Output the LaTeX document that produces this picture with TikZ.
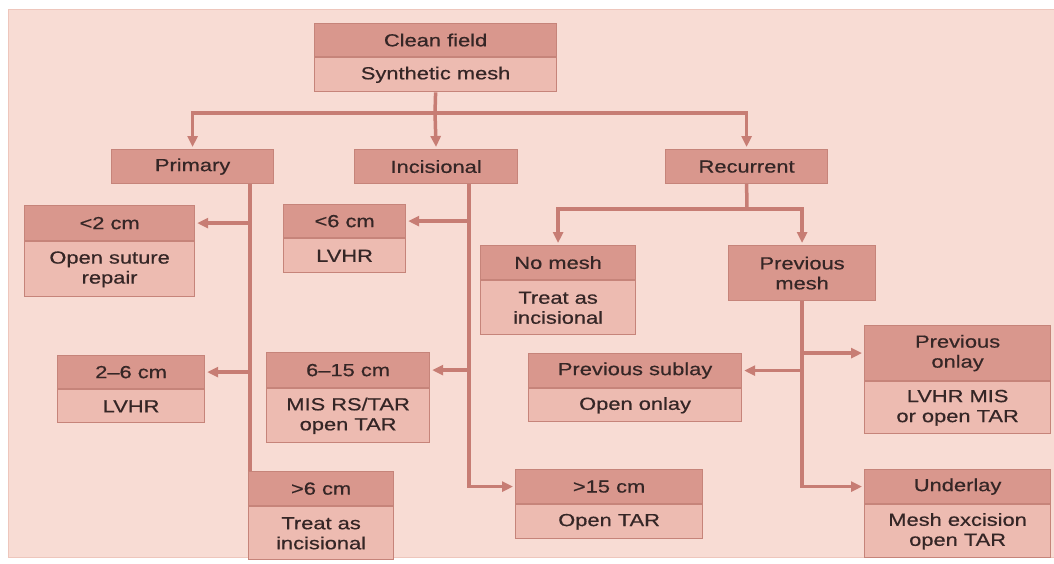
\documentclass[tikz,border=0pt]{standalone}
\usepackage{fontspec}
\setmainfont{Liberation Sans}[FakeStretch=1.25,FakeBold=0.6]
\usetikzlibrary{arrows.meta}
\definecolor{panel}{HTML}{F8DCD4}
\definecolor{panelline}{HTML}{EEC6BC}
\definecolor{hdrfill}{HTML}{D9978D}
\definecolor{bodyfill}{HTML}{EDBBB1}
\definecolor{boxline}{HTML}{C6847A}
\definecolor{linec}{HTML}{C77D74}
\definecolor{txt}{HTML}{352626}
\tikzset{
  boxbase/.style={draw=boxline, line width=1.2pt, text=txt, align=center,
    inner sep=0pt, anchor=north west,
    font=\fontsize{17.5pt}{20pt}\selectfont},
  hdr/.style={boxbase, fill=hdrfill},
  bdy/.style={boxbase, fill=bodyfill},
  conn/.style={draw=linec, line width=3.5pt},
  arr/.style={conn, -{Triangle[length=11pt,width=10pt]}, shorten >=2pt}
}
\begin{document}
\begin{tikzpicture}[x=1pt,y=-1pt]
\useasboundingbox (0,0) rectangle (1054,563);
\fill[white] (0,0) rectangle (1054,563);
\filldraw[fill=panel, draw=panelline, line width=1pt] (8,9) rectangle (1054,557);

% top
\node[hdr, minimum width=242pt, minimum height=33pt] (clean) at (314,23) {Clean field};
\node[bdy, minimum width=242pt, minimum height=34pt] (cleanb) at (clean.south west) {Synthetic mesh};

% level 2
\node[hdr, minimum width=162pt, minimum height=34pt] (primary) at (111,149) {Primary};
\node[hdr, minimum width=163pt, minimum height=34pt] (incis) at (354,149) {Incisional};
\node[hdr, minimum width=162pt, minimum height=34pt] (recur) at (665,149) {Recurrent};

% primary branch
\node[hdr, minimum width=170pt, minimum height=35pt] (lt2) at (24,205) {<2 cm};
\node[bdy, minimum width=170pt, minimum height=55pt] (lt2b) at (lt2.south west) {Open suture\\repair};
\node[hdr, minimum width=147pt, minimum height=33pt] (r26) at (57,355) {2–6 cm};
\node[bdy, minimum width=147pt, minimum height=33pt] (r26b) at (r26.south west) {LVHR};
\node[hdr, minimum width=145pt, minimum height=34pt] (gt6) at (248,471) {>6 cm};
\node[bdy, minimum width=145pt, minimum height=53pt] (gt6b) at (gt6.south west) {Treat as\\incisional};

% incisional branch
\node[hdr, minimum width=122pt, minimum height=33pt] (lt6) at (283,204) {<6 cm};
\node[bdy, minimum width=122pt, minimum height=34pt] (lt6b) at (lt6.south west) {LVHR};
\node[hdr, minimum width=163pt, minimum height=35pt] (r615) at (266,352) {6–15 cm};
\node[bdy, minimum width=163pt, minimum height=54pt] (r615b) at (r615.south west) {MIS RS/TAR\\open TAR};
\node[hdr, minimum width=187pt, minimum height=34pt] (gt15) at (515,469) {>15 cm};
\node[bdy, minimum width=187pt, minimum height=34pt] (gt15b) at (gt15.south west) {Open TAR};

% recurrent branch
\node[hdr, minimum width=155pt, minimum height=34pt] (nomesh) at (480,245) {No mesh};
\node[bdy, minimum width=155pt, minimum height=54pt] (nomeshb) at (nomesh.south west) {Treat as\\incisional};
\node[hdr, minimum width=147pt, minimum height=55pt] (prevmesh) at (728,245) {Previous\\mesh};
\node[hdr, minimum width=213pt, minimum height=34pt] (sublay) at (528,353) {Previous sublay};
\node[bdy, minimum width=213pt, minimum height=33pt] (sublayb) at (sublay.south west) {Open onlay};
\node[hdr, minimum width=186pt, minimum height=55pt] (onlay) at (864,325) {Previous\\onlay};
\node[bdy, minimum width=186pt, minimum height=52pt] (onlayb) at (onlay.south west) {LVHR MIS\\or open TAR};
\node[hdr, minimum width=186pt, minimum height=34pt] (under) at (864,469) {Underlay};
\node[bdy, minimum width=186pt, minimum height=53pt] (underb) at (under.south west) {Mesh excision\\open TAR};

% helper coordinates
\coordinate (j1) at (435,113);
\coordinate (pline) at (250,0);
\coordinate (iline) at (469,0);
\coordinate (j2) at (747,209);

% connectors from top
\draw[conn] (cleanb.south) -- (j1);
\draw[arr] (j1) -| (primary.north);
\draw[arr] (j1) -- (incis.north);
\draw[arr] (j1) -| (recur.north);

% primary
\draw[conn] (primary.south -| pline) -- (pline |- gt6.north);
\draw[arr] (pline |- lt2.east) -- (lt2.east);
\draw[arr] (pline |- r26.east) -- (r26.east);

% incisional
\draw[conn] (incis.south -| iline) -- (iline |- lt6.east);
\draw[arr] (iline |- lt6.east) -- (lt6.east);
\draw[arr] (iline |- r615.east) -- (r615.east);
\draw[arr] (incis.south -| iline) |- (gt15.west);

% recurrent
\draw[conn] (recur.south) -- (j2);
\draw[arr] (j2) -| (nomesh.north);
\draw[arr] (j2) -| (prevmesh.north);
\draw[arr] (prevmesh.south) |- (under.west);
\draw[arr] (prevmesh.south |- onlay.west) -- (onlay.west);
\draw[arr] (prevmesh.south |- sublay.east) -- (sublay.east);
\end{tikzpicture}
\end{document}
